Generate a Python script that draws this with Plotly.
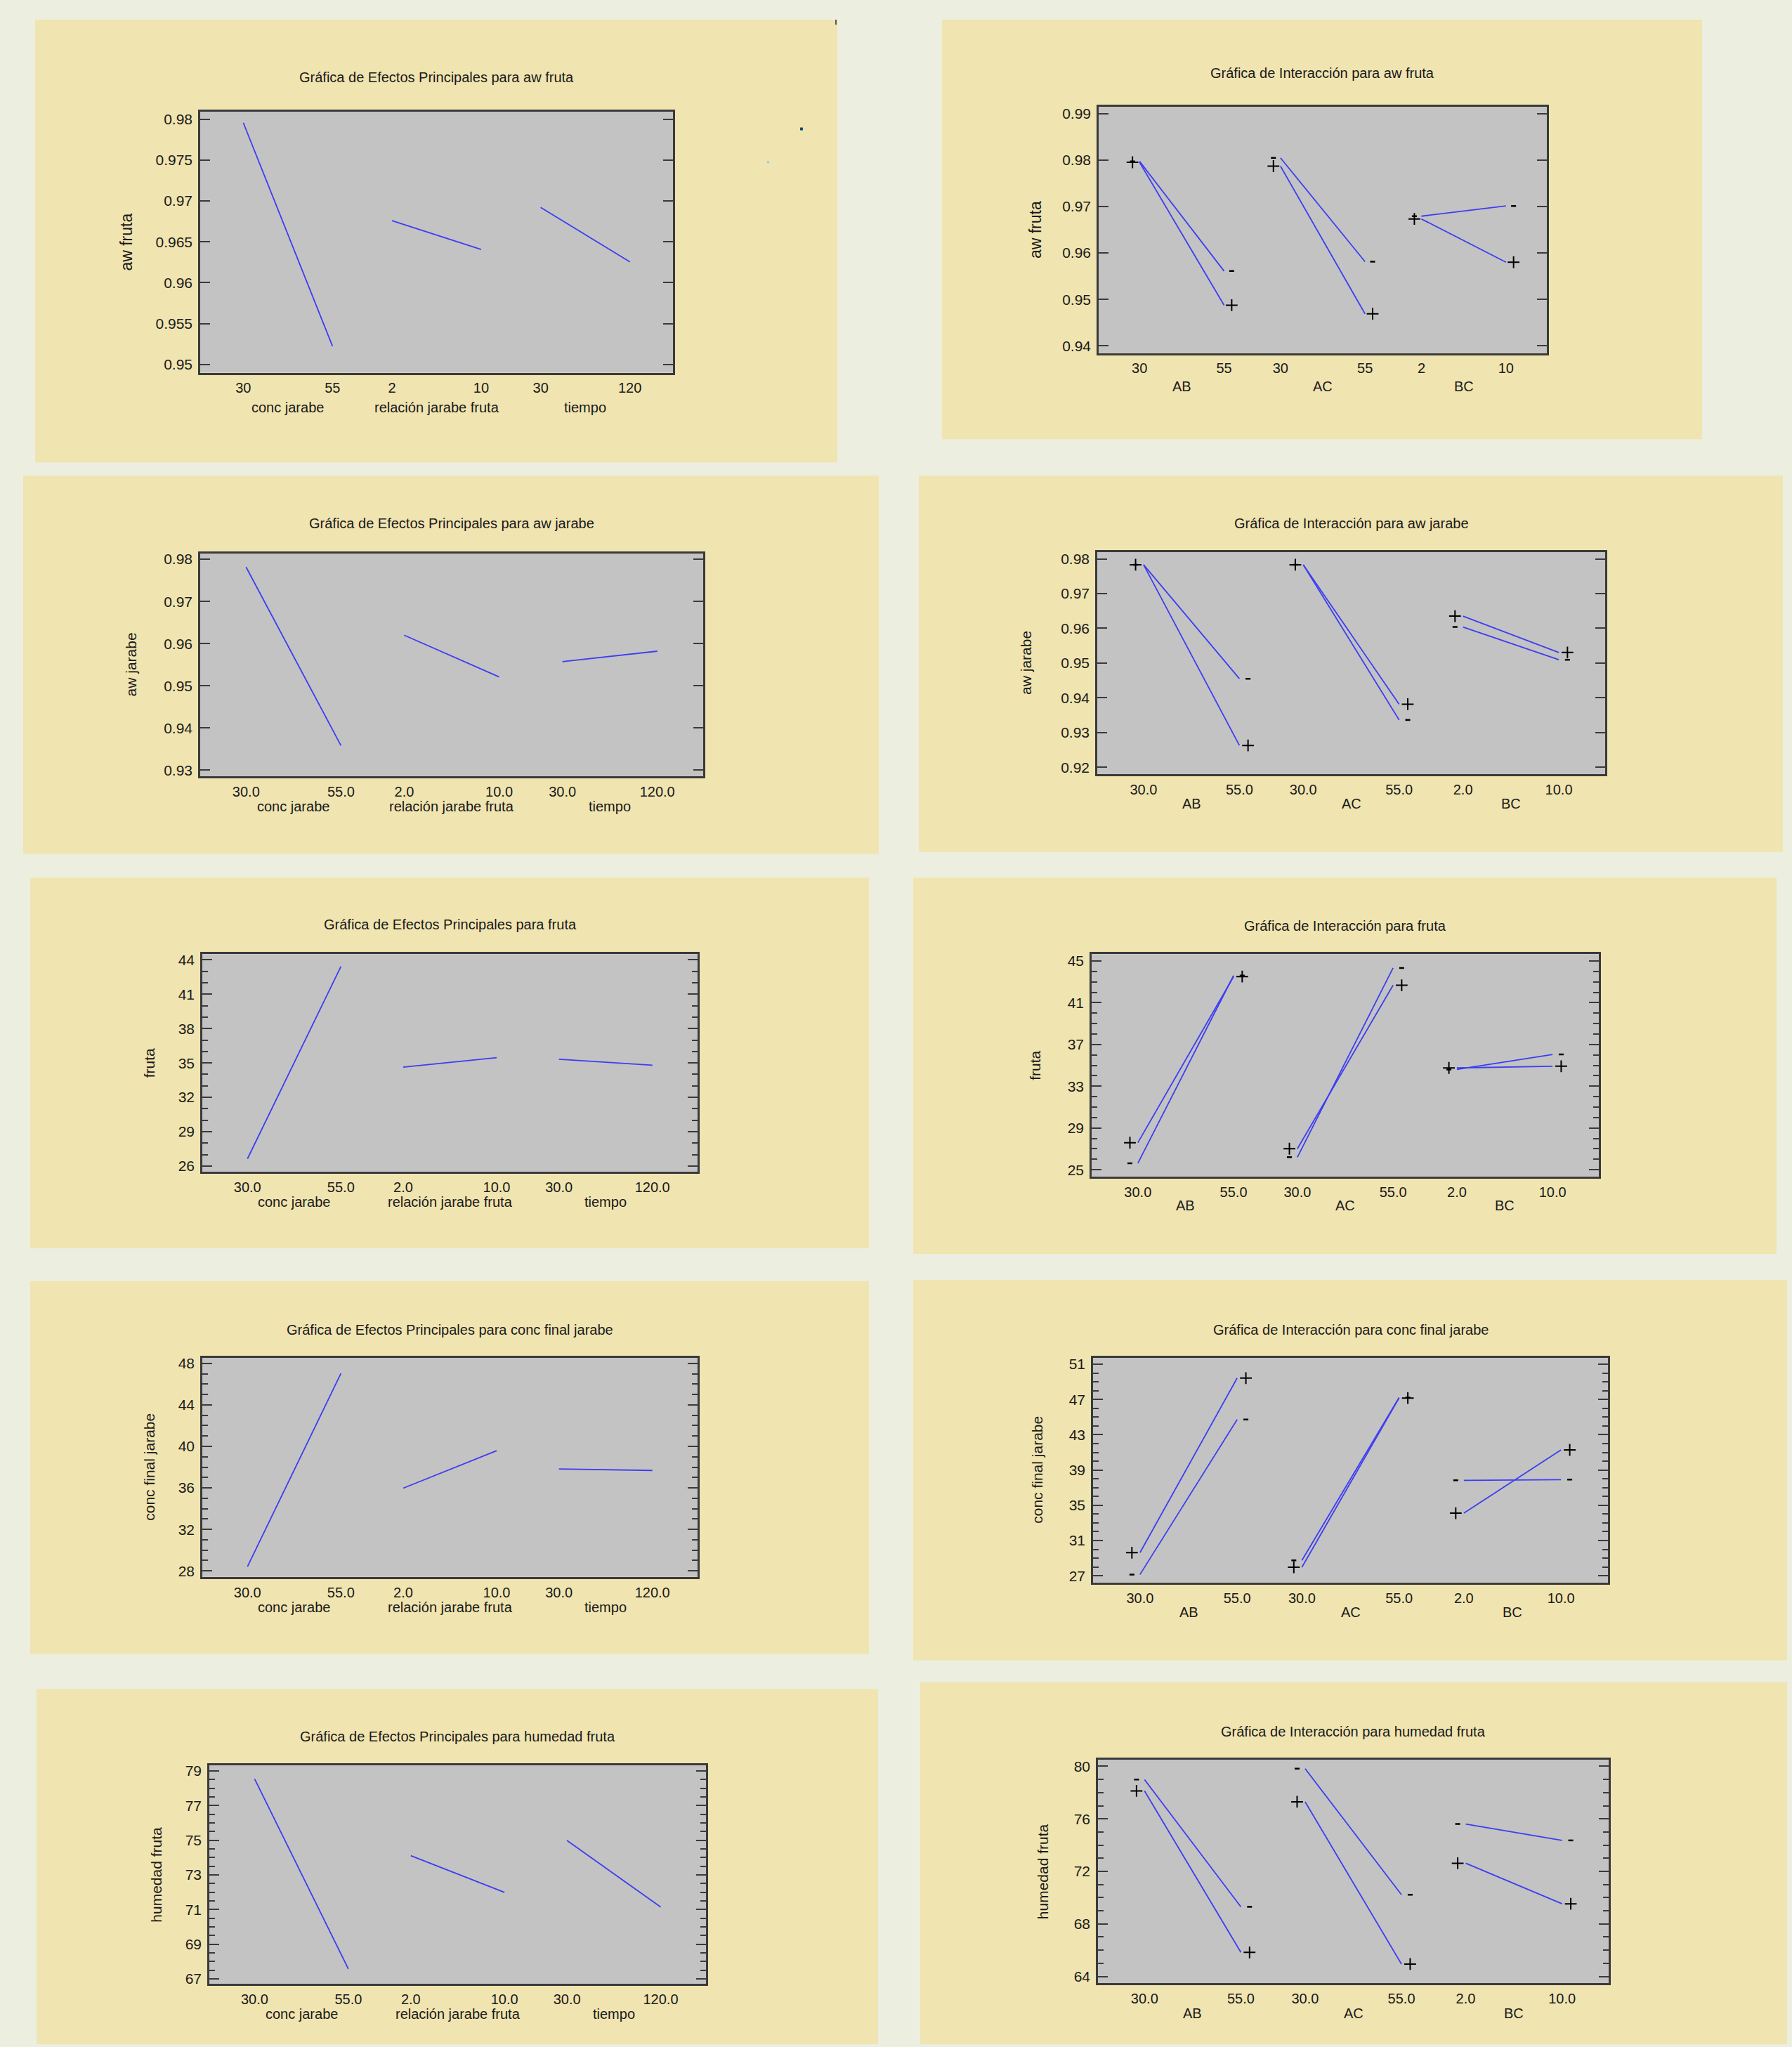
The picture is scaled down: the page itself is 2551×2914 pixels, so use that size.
import plotly.graph_objects as go

W, H = 2551, 2914

# ---------------- data ----------------
main_factors = ["conc jarabe", "relación jarabe fruta", "tiempo"]
inter_factors = ["AB", "AC", "BC"]
main_ticks_plain = ["30", "55", "2", "10", "30", "120"]
main_ticks_dec = ["30.0", "55.0", "2.0", "10.0", "30.0", "120.0"]
inter_ticks_plain = ["30", "55", "30", "55", "2", "10"]
inter_ticks_dec = ["30.0", "55.0", "30.0", "55.0", "2.0", "10.0"]

# main effects (value at low level, value at high level) for conc jarabe, relacion, tiempo
aw_fruta_low = [0.97955, 0.96759, 0.96920]
aw_fruta_high = [0.95224, 0.96406, 0.96255]
aw_jarabe_low = [0.97815, 0.96200, 0.95572]
aw_jarabe_high = [0.93583, 0.95209, 0.95820]
fruta_low = [26.64, 34.64, 35.32]
fruta_high = [43.42, 35.47, 34.80]
conc_final_low = [28.42, 35.97, 37.82]
conc_final_high = [47.03, 39.59, 37.68]
humedad_low = [78.54, 74.11, 74.98]
humedad_high = [67.57, 71.99, 71.14]

# interactions AB, AC, BC: "-" line / "+" line, value at low / high level
aw_fruta_minus_low = [0.97970, 0.98045, 0.96790]
aw_fruta_minus_high = [0.95610, 0.95812, 0.97010]
aw_fruta_plus_low = [0.97950, 0.97867, 0.96730]
aw_fruta_plus_high = [0.94875, 0.94690, 0.95800]

aw_jarabe_minus_low = [0.97830, 0.97830, 0.96038]
aw_jarabe_minus_high = [0.94550, 0.93363, 0.95095]
aw_jarabe_plus_low = [0.97830, 0.97830, 0.96352]
aw_jarabe_plus_high = [0.92630, 0.93817, 0.95305]

fruta_minus_low = [25.62, 26.20, 34.60]
fruta_minus_high = [43.60, 44.33, 36.04]
fruta_plus_low = [27.59, 27.01, 34.75]
fruta_plus_high = [43.50, 42.67, 34.91]

conc_final_minus_low = [27.14, 28.74, 37.83]
conc_final_minus_high = [44.73, 47.22, 37.91]
conc_final_plus_low = [29.62, 27.97, 34.10]
conc_final_plus_high = [49.43, 47.17, 41.28]

humedad_minus_low = [78.99, 79.82, 75.61]
humedad_minus_high = [69.30, 70.22, 74.36]
humedad_plus_low = [78.13, 77.30, 72.62]
humedad_plus_high = [65.83, 64.94, 69.53]

# y tick labels
yt_aw_fruta_main = ["0.95", "0.955", "0.96", "0.965", "0.97", "0.975", "0.98"]
yt_aw_fruta_int = ["0.94", "0.95", "0.96", "0.97", "0.98", "0.99"]
yt_aw_jarabe_main = ["0.93", "0.94", "0.95", "0.96", "0.97", "0.98"]
yt_aw_jarabe_int = ["0.92", "0.93", "0.94", "0.95", "0.96", "0.97", "0.98"]
yt_fruta_main = ["26", "29", "32", "35", "38", "41", "44"]
yt_fruta_int = ["25", "29", "33", "37", "41", "45"]
yt_conc_main = ["28", "32", "36", "40", "44", "48"]
yt_conc_int = ["27", "31", "35", "39", "43", "47", "51"]
yt_hum_main = ["67", "69", "71", "73", "75", "77", "79"]
yt_hum_int = ["64", "68", "72", "76", "80"]

# ---------------- layout of the ten panels (pixel boxes) ----------------
FONT = "Liberation Sans, Arial, sans-serif"
TXT = "#1a1a1a"
PAGE = "#ECEEDF"
TAN = "#F0E4B0"
GRAY = "#C3C3C3"
AXC = "#3a3a3a"
LINE = "#3d3df2"

panels = [
    dict(kind="main", title="Gráfica de Efectos Principales para aw fruta", ytitle="aw fruta",
         series=(aw_fruta_low, aw_fruta_high), xt=main_ticks_plain, yt=yt_aw_fruta_main,
         tan=(50, 24, 1192, 656), box=(285, 155, 958, 528), ty=106, fy=578, yx=180, ys=23,
         yr=(0.9490, 0.98094), minor=None),
    dict(kind="int", title="Gráfica de Interacción para aw fruta", ytitle="aw fruta",
         series=(aw_fruta_minus_low, aw_fruta_minus_high, aw_fruta_plus_low, aw_fruta_plus_high),
         xt=inter_ticks_plain, yt=yt_aw_fruta_int,
         tan=(1341, 24, 2423, 623), box=(1564, 148, 2202, 500), ty=100, fy=548, yx=1474, ys=23,
         yr=(0.93845, 0.9915), minor=None),
    dict(kind="main", title="Gráfica de Efectos Principales para aw jarabe", ytitle="aw jarabe",
         series=(aw_jarabe_low, aw_jarabe_high), xt=main_ticks_dec, yt=yt_aw_jarabe_main,
         tan=(33, 675, 1251, 1215), box=(285, 786, 1001, 1104), ty=743, fy=1147, yx=186, ys=21,
         yr=(0.92856, 0.98138), minor=None),
    dict(kind="int", title="Gráfica de Interacción para aw jarabe", ytitle="aw jarabe",
         series=(aw_jarabe_minus_low, aw_jarabe_minus_high, aw_jarabe_plus_low, aw_jarabe_plus_high),
         xt=inter_ticks_dec, yt=yt_aw_jarabe_int,
         tan=(1308, 675, 2538, 1212), box=(1562, 784, 2285, 1101), ty=743, fy=1143, yx=1461, ys=21,
         yr=(0.91804, 0.98196), minor=None),
    dict(kind="main", title="Gráfica de Efectos Principales para fruta", ytitle="fruta",
         series=(fruta_low, fruta_high), xt=main_ticks_dec, yt=yt_fruta_main,
         tan=(43, 1249, 1237, 1778), box=(288, 1358, 993, 1669), ty=1316, fy=1712, yx=212, ys=21,
         yr=(25.48, 44.5), minor=(26, 1)),
    dict(kind="int", title="Gráfica de Interacción para fruta", ytitle="fruta",
         series=(fruta_minus_low, fruta_minus_high, fruta_plus_low, fruta_plus_high),
         xt=inter_ticks_dec, yt=yt_fruta_int,
         tan=(1300, 1249, 2529, 1786), box=(1554, 1358, 2276, 1676), ty=1318, fy=1717, yx=1474, ys=21,
         yr=(24.31, 45.65), minor=(25, 1)),
    dict(kind="main", title="Gráfica de Efectos Principales para conc final jarabe", ytitle="conc final jarabe",
         series=(conc_final_low, conc_final_high), xt=main_ticks_dec, yt=yt_conc_main,
         tan=(43, 1825, 1237, 2357), box=(288, 1934, 993, 2247), ty=1894, fy=2290, yx=213, ys=21,
         yr=(27.42, 48.55), minor=(28, 1)),
    dict(kind="int", title="Gráfica de Interacción para conc final jarabe", ytitle="conc final jarabe",
         series=(conc_final_minus_low, conc_final_minus_high, conc_final_plus_low, conc_final_plus_high),
         xt=inter_ticks_dec, yt=yt_conc_int,
         tan=(1300, 1823, 2544, 2366), box=(1556, 1934, 2289, 2255), ty=1894, fy=2297, yx=1477, ys=21,
         yr=(26.23, 51.75), minor=(27, 1)),
    dict(kind="main", title="Gráfica de Efectos Principales para humedad fruta", ytitle="humedad fruta",
         series=(humedad_low, humedad_high), xt=main_ticks_dec, yt=yt_hum_main,
         tan=(52, 2407, 1250, 2914), box=(298, 2516, 1005, 2828), ty=2475, fy=2871, yx=223, ys=21,
         yr=(66.70, 79.32), minor=(67, 0.5)),
    dict(kind="int", title="Gráfica de Interacción para humedad fruta", ytitle="humedad fruta",
         series=(humedad_minus_low, humedad_minus_high, humedad_plus_low, humedad_plus_high),
         xt=inter_ticks_dec, yt=yt_hum_int,
         tan=(1310, 2397, 2544, 2914), box=(1563, 2508, 2290, 2827), ty=2468, fy=2870, yx=1484, ys=21,
         yr=(63.48, 80.5), minor=(64, 1)),
]

level_pos = [0, 3, 5, 8, 10, 13]   # axis positions of the low/high levels of each segment
seg_centers = [1.5, 6.5, 11.5]
XR = [-1.45, 14.45]
LOW_OFF, HIGH_OFF = -0.25, 0.27


def fx(px):
    return px / W


def fy(py):
    return 1 - py / H


fig = go.Figure()
shapes, annotations = [], []
layout_axes = {}

for i, p in enumerate(panels, start=1):
    xa = "x" if i == 1 else f"x{i}"
    ya = "y" if i == 1 else f"y{i}"
    x0, y0, x1, y1 = p["box"]
    t0, t1, t2, t3 = p["tan"]
    shapes.append(dict(type="rect", xref="paper", yref="paper", x0=fx(t0), x1=fx(t2),
                       y0=fy(t3), y1=fy(t1), fillcolor=TAN, line=dict(width=0), layer="below"))
    shapes.append(dict(type="rect", xref="paper", yref="paper", x0=fx(x0), x1=fx(x1),
                       y0=fy(y1), y1=fy(y0), fillcolor=GRAY, line=dict(width=0), layer="below"))

    if p["kind"] == "main":
        low, high = p["series"]
        xs, ys = [], []
        for k in range(3):
            xs += [level_pos[2 * k], level_pos[2 * k + 1], None]
            ys += [low[k], high[k], None]
        fig.add_trace(go.Scatter(x=xs, y=ys, mode="lines", line=dict(color=LINE, width=1.8),
                                 xaxis=xa, yaxis=ya, showlegend=False, hoverinfo="skip"))
        labels = main_factors
    else:
        mlow, mhigh, plow, phigh = p["series"]
        for low, high, sym, msize, mlw in ((mlow, mhigh, "line-ew", 5, 2.5),
                                          (plow, phigh, "cross-thin", 12, 2)):
            xs, ys = [], []
            for k in range(3):
                xs += [level_pos[2 * k], level_pos[2 * k + 1], None]
                ys += [low[k], high[k], None]
            fig.add_trace(go.Scatter(x=xs, y=ys, mode="lines", line=dict(color=LINE, width=1.8),
                                     xaxis=xa, yaxis=ya, showlegend=False, hoverinfo="skip"))
            mx, my = [], []
            for k in range(3):
                mx += [level_pos[2 * k] + LOW_OFF, level_pos[2 * k + 1] + HIGH_OFF]
                my += [low[k], high[k]]
            fig.add_trace(go.Scatter(x=mx, y=my, mode="markers",
                                     marker=dict(symbol=sym, size=msize, color="black",
                                                 line=dict(color="black", width=mlw)),
                                     xaxis=xa, yaxis=ya, showlegend=False, hoverinfo="skip"))
        labels = inter_factors

    yvals = [float(t) for t in p["yt"]]
    yaxis = dict(domain=[fy(y1), fy(y0)], range=list(p["yr"]), tickmode="array",
                 tickvals=yvals, ticktext=p["yt"], ticks="inside", ticklen=14, tickwidth=2,
                 tickcolor=AXC, mirror="ticks", showline=True, linecolor=AXC, linewidth=2.5,
                 showgrid=False, zeroline=False, fixedrange=True,
                 tickfont=dict(family=FONT, size=21, color=TXT), anchor=xa, ticklabelstandoff=4)
    if p["minor"]:
        t0m, dm = p["minor"]
        yaxis["minor"] = dict(tickmode="linear", tick0=t0m, dtick=dm, ticks="inside", ticklen=8,
                              tickwidth=2, tickcolor=AXC, showgrid=False)
    xaxis = dict(domain=[fx(x0), fx(x1)], range=XR, tickmode="array", tickvals=level_pos,
                 ticktext=p["xt"], ticks="", showline=True, mirror=True, linecolor=AXC,
                 linewidth=2.5, showgrid=False, zeroline=False, fixedrange=True,
                 tickfont=dict(family=FONT, size=20, color=TXT), anchor=ya, ticklabelstandoff=2)
    layout_axes["xaxis" if i == 1 else f"xaxis{i}"] = xaxis
    layout_axes["yaxis" if i == 1 else f"yaxis{i}"] = yaxis

    # title
    annotations.append(dict(text=p["title"], xref="paper", yref="paper", x=fx((x0 + x1) / 2),
                            y=fy(p["ty"]), xanchor="center", yanchor="middle", showarrow=False,
                            font=dict(family=FONT, size=20, color=TXT)))
    # y-axis title
    annotations.append(dict(text=p["ytitle"], xref="paper", yref="paper", x=fx(p["yx"]),
                            y=fy((y0 + y1) / 2), xanchor="center", yanchor="middle", textangle=-90,
                            showarrow=False, font=dict(family=FONT, size=p["ys"], color=TXT)))
    # factor labels below x axis
    for k, lab in enumerate(labels):
        annotations.append(dict(text=lab, xref=xa, yref="paper", x=seg_centers[k], y=fy(p["fy"]),
                                xanchor="center", yanchor="middle", showarrow=False,
                                font=dict(family=FONT, size=20, color=TXT)))

# stray specks in the first panel
shapes.append(dict(type="rect", xref="paper", yref="paper", x0=fx(1139), x1=fx(1143),
                   y0=fy(182), y1=fy(178), fillcolor="#0b4f6c", line=dict(width=0)))
shapes.append(dict(type="rect", xref="paper", yref="paper", x0=fx(1092), x1=fx(1095),
                   y0=fy(229), y1=fy(226), fillcolor="#8fd0e6", line=dict(width=0)))
shapes.append(dict(type="rect", xref="paper", yref="paper", x0=fx(1189), x1=fx(1191),
                   y0=fy(31), y1=fy(24), fillcolor="#555555", line=dict(width=0)))

fig.update_layout(width=W, height=H, margin=dict(l=0, r=0, t=0, b=0),
                  paper_bgcolor=PAGE, plot_bgcolor="rgba(0,0,0,0)",
                  shapes=shapes, annotations=annotations, showlegend=False,
                  font=dict(family=FONT, color=TXT), **layout_axes)

fig.write_html("out.html", config={"displayModeBar": False},
               post_script="document.body.style.margin='0';document.body.style.padding='0';"
                           "document.body.style.background='" + PAGE + "';")
